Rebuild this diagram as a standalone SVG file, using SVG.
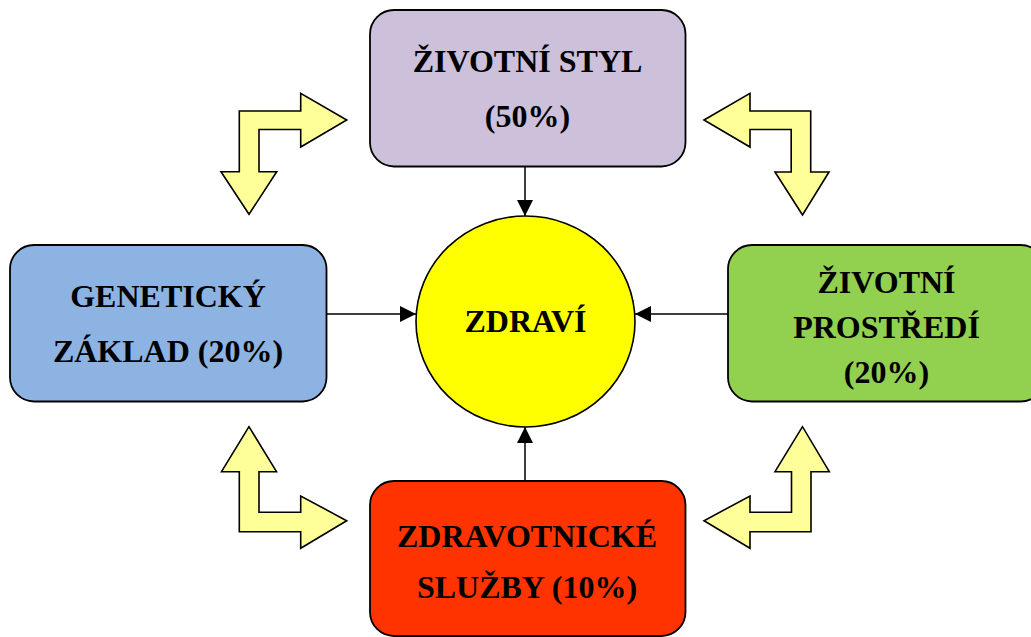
<svg xmlns="http://www.w3.org/2000/svg" width="1031" height="637" viewBox="0 0 1031 637">
<defs>
<style>
.box{stroke:#000;stroke-width:1.8}
.t{font-family:"Liberation Serif","Times New Roman",serif;font-weight:bold;font-size:32px;fill:#000;text-anchor:middle}
.bent{fill:#ffff99;stroke:#000;stroke-width:1.6;stroke-linejoin:miter}
.conn{stroke:#000;stroke-width:1.5;fill:none}
</style>
<marker id="ah" markerUnits="userSpaceOnUse" markerWidth="17" markerHeight="16" refX="16" refY="8" orient="auto">
<path d="M0,0 L16,8 L0,16 z" fill="#000"/>
</marker>
</defs>
<rect width="1031" height="637" fill="#fff"/>

<g id="connectors">
<line class="conn" x1="525" y1="167" x2="525" y2="216" marker-end="url(#ah)"/>
<line class="conn" x1="327" y1="314" x2="416" y2="314" marker-end="url(#ah)"/>
<line class="conn" x1="728" y1="314" x2="635" y2="314" marker-end="url(#ah)"/>
<line class="conn" x1="525" y1="481" x2="525" y2="427" marker-end="url(#ah)"/>
</g>

<g id="bent-arrows">
<polygon class="bent" points="346.7,120 300.7,93.3 300.7,111 239.3,111 239.3,171.7 221,171.7 249,214.3 276.7,171.7 259,171.7 259,129.5 300.7,129.5 300.7,147"/>
<polygon class="bent" points="704,120 750,93.3 750,111 810.7,111 810.7,172 829,172 802.5,215 775,172 791.2,172 791.2,129.5 750,129.5 750,147"/>
<polygon class="bent" points="249,426.7 221.5,471.7 239.3,471.7 239.3,531.7 300.7,531.7 300.7,548.3 346.7,520.7 300.7,496 300.7,512.3 259,512.3 259,471.7 276.5,471.7"/>
<polygon class="bent" points="802.5,426.7 775,471.7 791.5,471.7 791.5,512.3 750,512.3 750,496 704,520.7 750,548.3 750,531.7 811,531.7 811,471.7 829.3,471.7"/>
</g>

<g id="node-zivotni-styl">
<rect class="box" x="370" y="10" width="315.5" height="156.5" rx="24" ry="24" fill="#ccc0da"/>
<text class="t" x="527.5" y="71.5">ŽIVOTNÍ STYL</text>
<text class="t" x="527.5" y="126.5">(50%)</text>
</g>

<g id="node-geneticky-zaklad">
<rect class="box" x="10" y="245" width="316.5" height="156.5" rx="24" ry="24" fill="#8db3e2"/>
<text class="t" x="168" y="306.5">GENETICKÝ</text>
<text class="t" x="168" y="361.5">ZÁKLAD (20%)</text>
</g>

<g id="node-zivotni-prostredi">
<rect class="box" x="728" y="245" width="316.5" height="156.5" rx="24" ry="24" fill="#92d050"/>
<text class="t" x="886.5" y="293.3">ŽIVOTNÍ</text>
<text class="t" x="886.5" y="338.3">PROSTŘEDÍ</text>
<text class="t" x="886.5" y="383.3">(20%)</text>
</g>

<g id="node-zdravotnicke-sluzby">
<rect class="box" x="370" y="481" width="315.5" height="155" rx="24" ry="24" fill="#ff3300"/>
<text class="t" x="527" y="546.5">ZDRAVOTNICKÉ</text>
<text class="t" x="527" y="598.3">SLUŽBY (10%)</text>
</g>

<g id="node-zdravi">
<ellipse cx="525.5" cy="321.5" rx="109.5" ry="105.5" fill="#ffff00" stroke="#000" stroke-width="1.6"/>
<text class="t" x="525.5" y="331.5">ZDRAVÍ</text>
</g>
</svg>
